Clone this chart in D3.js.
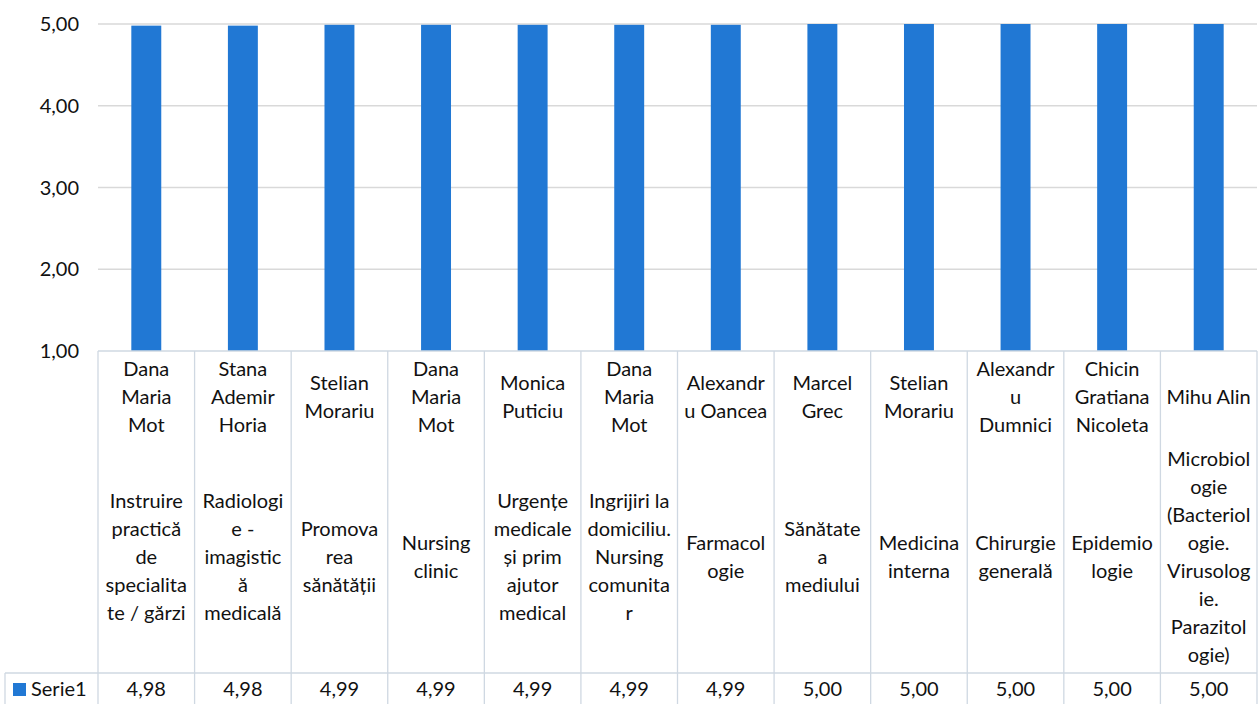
<!DOCTYPE html>
<html><head><meta charset="utf-8">
<script src="https://cdn.jsdelivr.net/npm/d3@7"></script>
<style>body{margin:0;background:#fff}svg{display:block}text{font-family:Lato,"Noto Sans",sans-serif;fill:#111}</style>
</head><body><svg id="c" width="1259" height="704"></svg>
<script>
const names = ["Dana\nMaria\nMot","Stana\nAdemir\nHoria","Stelian\nMorariu","Dana\nMaria\nMot","Monica\nPuticiu","Dana\nMaria\nMot","Alexandr\nu Oancea","Marcel\nGrec","Stelian\nMorariu","Alexandr\nu\nDumnici","Chicin\nGratiana\nNicoleta","Mihu Alin"];
const subjects = ["Instruire\npractică\nde\nspecialita\nte / gărzi","Radiologi\ne -\nimagistic\nă\nmedicală","Promova\nrea\nsănătății","Nursing\nclinic","Urgențe\nmedicale\nși prim\najutor\nmedical","Ingrijiri la\ndomiciliu.\nNursing\ncomunita\nr","Farmacol\nogie","Sănătate\na\nmediului","Medicina\ninterna","Chirurgie\ngenerală","Epidemio\nlogie","Microbiol\nogie\n(Bacteriol\nogie.\nVirusolog\nie.\nParazitol\nogie)"];
const values = [4.98,4.98,4.99,4.99,4.99,4.99,4.99,5.00,5.00,5.00,5.00,5.00];
const seriesName = "Serie1";
const yTicks = [1,2,3,4,5];

(function(){
const svg = d3.select("#c");
const pLeft = 98, pRight = 1257, pTop = 24, base = 351;
const nameMid = 397, subjMid = 557, tableTop = 673, rowMid = 689, bottom = 704;
const lh = 28, fs = 20;
const fmt = v => d3.format(".2f")(v).replace(".", ",");

const x = d3.scaleBand().domain(d3.range(values.length)).range([pLeft, pRight]).paddingInner(0.69).paddingOuter(0.345);
const step = x.step();
const y = d3.scaleLinear().domain([1,5]).range([base, pTop]);

svg.append("g").selectAll("line").data(yTicks.slice(1)).join("line")
  .attr("x1", pLeft).attr("x2", pRight).attr("y1", d=>y(d)).attr("y2", d=>y(d))
  .attr("stroke", "#d9d9d9").attr("stroke-width", 1.3);

svg.append("g").selectAll("text").data(yTicks).join("text")
  .attr("x", 79).attr("y", d=>y(d)).attr("dy","0.35em").attr("text-anchor","end")
  .attr("font-size", fs).text(fmt);

svg.append("g").selectAll("rect").data(values).join("rect")
  .attr("x", (d,i)=>x(i)).attr("width", x.bandwidth())
  .attr("y", d=>y(d)).attr("height", d=>y(1)-y(d))
  .attr("fill", "#2178d4");

const tc = "#cfd8e2";
const tl = svg.append("g").attr("stroke", tc).attr("stroke-width", 1.3);
tl.append("line").attr("x1", pLeft).attr("x2", pRight).attr("y1", base).attr("y2", base);
tl.append("line").attr("x1", 5).attr("x2", pRight).attr("y1", tableTop).attr("y2", tableTop);
tl.append("line").attr("x1", 5).attr("x2", 5).attr("y1", tableTop).attr("y2", bottom);
tl.selectAll("line.v").data(d3.range(values.length+1)).join("line").attr("class","v")
  .attr("x1", i=>pLeft+i*step).attr("x2", i=>pLeft+i*step).attr("y1", base).attr("y2", bottom);

function multiline(g, str, cx, mid){
  const lines = str.split("\n");
  const t = g.append("text").attr("text-anchor","middle").attr("font-size",fs);
  lines.forEach((l,k)=>{
    t.append("tspan").attr("x", cx).attr("y", mid + (k-(lines.length-1)/2)*lh).attr("dy","0.35em").text(l);
  });
}
const lg = svg.append("g");
names.forEach((n,i)=>multiline(lg, n, x(i)+x.bandwidth()/2, nameMid));
subjects.forEach((s,i)=>multiline(lg, s, x(i)+x.bandwidth()/2, subjMid));

svg.append("g").selectAll("text").data(values).join("text")
  .attr("x", (d,i)=>x(i)+x.bandwidth()/2).attr("y", rowMid).attr("dy","0.35em")
  .attr("text-anchor","middle").attr("font-size",fs).text(fmt);

svg.append("rect").attr("x", 13).attr("y", 683).attr("width", 13).attr("height", 13).attr("fill", "#2178d4");
svg.append("text").attr("x", 31).attr("y", rowMid).attr("dy","0.35em").attr("font-size",fs).text(seriesName);
})();
</script></body></html>
